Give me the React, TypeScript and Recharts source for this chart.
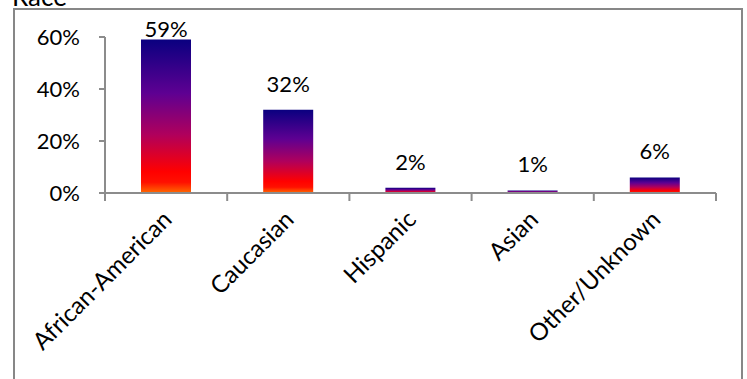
import { Bar, BarChart, LabelList, XAxis, YAxis } from "recharts";

const races = ["African-American", "Caucasian", "Hispanic", "Asian", "Other/Unknown"];
const shares = [0.59, 0.32, 0.02, 0.01, 0.06];
const shareTicks = [0, 0.2, 0.4, 0.6];

const data = races.map((race, i) => ({ race, share: shares[i] }));

const FONT = "Lato, 'Liberation Sans', sans-serif";
const AXIS_GREY = "#8c8c8c";
const PLOT_TOP = 37;

function pct(v: number): string {
	return `${Math.round(v * 100)}%`;
}

// category tick: Excel puts the tick marks between categories, not under them
function RaceTick(props: any) {
	const { x, y, payload, index } = props;
	const half = payload?.offset ?? 61;
	const ax = x + 7;
	const ay = y + 20;
	return (
		<g>
			<line x1={x - half} y1={y - 8} x2={x - half} y2={y} stroke={AXIS_GREY} strokeWidth={2} />
			{index === races.length - 1 && (
				<line x1={x + half} y1={y - 8} x2={x + half} y2={y} stroke={AXIS_GREY} strokeWidth={2} />
			)}
			<text
				x={ax}
				y={ay}
				textAnchor="end"
				fontSize={24}
				fontFamily={FONT}
				fill="#000"
				transform={`rotate(-45, ${ax}, ${ay})`}
			>
				{payload.value}
			</text>
		</g>
	);
}

function ShareLabel(props: any) {
	const { x, y, width, value } = props;
	// label sits above the bar but never leaves the plot area
	const baseline = Math.max(y - 18, PLOT_TOP);
	return (
		<text x={x + width / 2} y={baseline} textAnchor="middle" fontSize={22} fontFamily={FONT} fill="#000">
			{pct(value)}
		</text>
	);
}

export default function App() {
	return (
		<div style={{ position: "absolute", left: 0, top: 0, width: 747, height: 379, overflow: "hidden", background: "#fff" }}>
			<div
				style={{
					position: "absolute",
					left: 12,
					top: -20,
					fontFamily: FONT,
					fontSize: 26,
					color: "#000",
				}}
			>
				Race
			</div>
			<div
				style={{
					position: "absolute",
					left: 13,
					top: 8,
					width: 730,
					height: 400,
					border: "2px solid #878787",
					boxSizing: "border-box",
				}}
			/>
			<div style={{ position: "absolute", left: 0, top: 0 }}>
				<BarChart
					width={747}
					height={379}
					data={data}
					margin={{ top: PLOT_TOP, right: 31, bottom: 0, left: 45 }}
				>
					<defs>
						<linearGradient id="raceFill" x1="0" y1="0" x2="0" y2="1">
							<stop offset="0" stopColor="#0a0080" />
							<stop offset="0.35" stopColor="#5e0092" />
							<stop offset="0.62" stopColor="#b0005c" />
							<stop offset="0.86" stopColor="#ff0000" />
							<stop offset="0.93" stopColor="#ff1000" />
							<stop offset="1" stopColor="#ff6a00" />
						</linearGradient>
					</defs>
					<YAxis
						width={60}
						domain={[0, 0.6]}
						ticks={shareTicks}
						tickFormatter={pct}
						tickSize={6}
						tickMargin={19}
						interval={0}
						axisLine={{ stroke: AXIS_GREY, strokeWidth: 2 }}
						tickLine={{ stroke: AXIS_GREY, strokeWidth: 2 }}
						tick={{ fontSize: 22, fontFamily: FONT, fill: "#000" }}
					/>
					<XAxis
						dataKey="race"
						height={186}
						interval={0}
						tickLine={false}
						axisLine={{ stroke: AXIS_GREY, strokeWidth: 2 }}
						tick={<RaceTick />}
					/>
					<Bar dataKey="share" barSize={50} fill="url(#raceFill)" isAnimationActive={false}>
						<LabelList dataKey="share" content={<ShareLabel />} />
					</Bar>
				</BarChart>
			</div>
		</div>
	);
}
